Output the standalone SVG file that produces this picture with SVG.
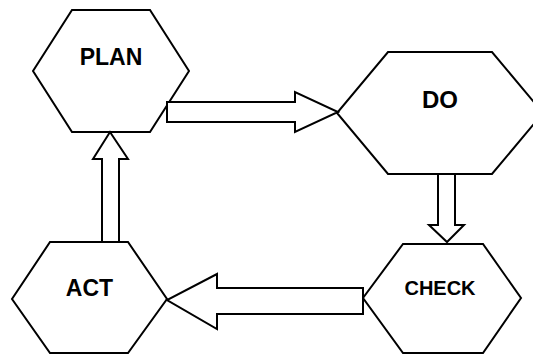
<svg xmlns="http://www.w3.org/2000/svg" width="533" height="354" viewBox="0 0 533 354">
  <style>
    .hex { fill: #ffffff; stroke: #000000; stroke-width: 2; stroke-linejoin: miter; }
    .arrow { fill: #ffffff; stroke: #000000; stroke-width: 2; stroke-linejoin: miter; }
    .label { font-family: "Liberation Sans", Arial, sans-serif; font-weight: bold; fill: #000000; text-anchor: middle; }
  </style>
  <rect width="533" height="354" fill="#ffffff"/>

  <g id="plan">
    <polygon class="hex" points="72,10 150,10 189,71 150,132 72,132 33,71"/>
    <text class="label" x="111" y="65" font-size="23">PLAN</text>
  </g>

  <g id="do">
    <polygon class="hex" points="388,52 492,52 543,113 492,174 388,174 337,113"/>
    <text class="label" x="440" y="108" font-size="24">DO</text>
  </g>

  <g id="check">
    <polygon class="hex" points="403,244 483,244 521,298 483,353 403,353 363,298"/>
    <text class="label" x="440" y="295" font-size="20">CHECK</text>
  </g>

  <g id="act">
    <polygon class="hex" points="50,242 128,242 167,299 128,353 50,353 12,299"/>
    <text class="label" x="89.5" y="296" font-size="23">ACT</text>
  </g>

  <g id="connectors">
    <!-- PLAN to DO -->
    <polygon class="arrow" points="167,102 295,102 295,92 338,112 295,132 295,122 167,122"/>
    <!-- DO to CHECK -->
    <polygon class="arrow" points="438,174 455,174 455,225 464,225 447,242 429,225 438,225"/>
    <!-- CHECK to ACT -->
    <polygon class="arrow" points="363,288 217,288 217,274 167,300 217,329 217,314 363,314"/>
    <!-- ACT to PLAN -->
    <polygon class="arrow" points="102,242 102,159 93,159 110,132 128,159 119,159 119,242"/>
  </g>
</svg>
